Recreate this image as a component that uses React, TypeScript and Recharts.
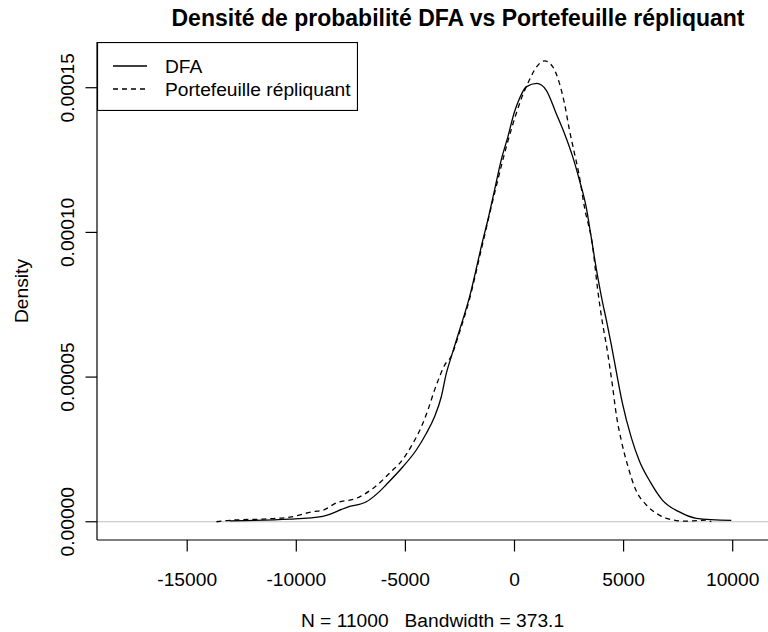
import React from 'react';
import { LineChart, Line, XAxis, YAxis, ReferenceLine, Legend, Label } from 'recharts';

// ---------- data ----------
const dfaX = [-13050, -10300, -8790, -7650, -6790, -6180, -5880, -5115, -4500, -4045, -3665, -3355, -3125, -2900, -2520, -2060, -1765, -1525, -1225, -915, -610, -305, 0, 230, 535, 1020, 1450, 1910, 2290, 2670, 2975, 3285, 3480, 3760, 4045, 4213, 4442, 4670, 4945, 5357, 5724, 6227, 6777, 7555, 8334, 9936];
const dfaY = [0.03e-5, 0.09e-5, 0.19e-5, 0.51e-5, 0.69e-5, 1.05e-5, 1.28e-5, 1.90e-5, 2.48e-5, 3.05e-5, 3.63e-5, 4.32e-5, 5.13e-5, 5.70e-5, 6.62e-5, 7.77e-5, 8.70e-5, 9.50e-5, 10.42e-5, 11.46e-5, 12.50e-5, 13.30e-5, 14.17e-5, 14.63e-5, 15.03e-5, 15.15e-5, 14.92e-5, 14.11e-5, 13.42e-5, 12.61e-5, 11.81e-5, 10.88e-5, 10.00e-5, 8.70e-5, 7.55e-5, 6.96e-5, 6.10e-5, 5.17e-5, 4.10e-5, 2.90e-5, 2.10e-5, 1.37e-5, 0.75e-5, 0.34e-5, 0.12e-5, 0.05e-5];

const repX = [-13660, -13050, -11370, -10300, -9235, -8780, -8165, -7250, -6490, -5575, -5265, -4655, -4270, -3970, -3665, -3435, -3205, -2900, -2520, -2060, -1525, -915, -305, 80, 320, 610, 915, 1375, 1755, 2060, 2290, 2520, 2745, 2945, 3205, 3585, 3814, 3984, 4258, 4487, 4670, 4899, 5197, 5541, 6044, 6640, 6960, 7876, 8792, 9020];
const repY = [0.0, 0.05e-5, 0.10e-5, 0.16e-5, 0.35e-5, 0.40e-5, 0.65e-5, 0.81e-5, 1.15e-5, 1.79e-5, 2.02e-5, 2.71e-5, 3.28e-5, 3.86e-5, 4.55e-5, 5.01e-5, 5.41e-5, 5.72e-5, 6.55e-5, 7.70e-5, 9.40e-5, 11.35e-5, 13.15e-5, 14.11e-5, 14.64e-5, 15.15e-5, 15.61e-5, 15.93e-5, 15.72e-5, 15.15e-5, 14.46e-5, 13.53e-5, 12.74e-5, 12.05e-5, 10.88e-5, 9.50e-5, 8.01e-5, 7.10e-5, 5.89e-5, 4.72e-5, 3.68e-5, 2.79e-5, 1.92e-5, 1.13e-5, 0.58e-5, 0.23e-5, 0.12e-5, 0.02e-5, 0.06e-5, 0.0];

const xTicks = [-15000, -10000, -5000, 0, 5000, 10000];
const yTicks = [0, 0.00005, 0.0001, 0.00015];
const xDomain = [-19134, 11618];
const yDomain = [-0.0000063, 0.0001658];

const titleText = 'Densité de probabilité DFA vs Portefeuille répliquant';
const xLabelText = 'N = 11000   Bandwidth = 373.1';
const yLabelText = 'Density';
const seriesNames = ['DFA', 'Portefeuille répliquant'];

const dfaData = dfaX.map((x, i) => ({ x, y: dfaY[i] }));
const repData = repX.map((x, i) => ({ x, y: repY[i] }));

// ---------- layout / style ----------
const W = 768;
const H = 632;
const PLOT_LEFT = 97;
const PLOT_TOP = 42;
const PLOT_BOTTOM = 540;
const TITLE_CX = 458;
const FONT = '"Liberation Sans", Arial, sans-serif';
const FS = 19.2;
const DASH = '5 4';

const XTick = (props: any) => {
  const { x, payload } = props;
  return (
    <text x={x} y={585.5} textAnchor="middle" fontSize={FS} fontFamily={FONT} fill="#000">
      {String(payload.value)}
    </text>
  );
};

const YTick = (props: any) => {
  const { y, payload } = props;
  return (
    <text
      transform={`translate(74, ${y}) rotate(-90)`}
      textAnchor="middle"
      fontSize={FS}
      fontFamily={FONT}
      fill="#000"
    >
      {Number(payload.value).toFixed(5)}
    </text>
  );
};

const renderLegend = () => (
  <svg width={261} height={69} style={{ display: 'block' }}>
    <rect x={0.5} y={0.5} width={260} height={68} fill="#fff" stroke="#000" strokeWidth={1.2} />
    <line x1={16} x2={50} y1={24} y2={24} stroke="#000" strokeWidth={1.3} />
    <line x1={16} x2={50} y1={47} y2={47} stroke="#000" strokeWidth={1.3} strokeDasharray={DASH} />
    <text x={68} y={31} fontSize={FS} fontFamily={FONT} fill="#000">{seriesNames[0]}</text>
    <text x={68} y={54} fontSize={FS} fontFamily={FONT} fill="#000">{seriesNames[1]}</text>
  </svg>
);

export default function App() {
  return (
    <div style={{ position: 'absolute', left: 0, top: 0, width: W, height: H, background: '#fff' }}>
      <LineChart width={W} height={H} margin={{ top: PLOT_TOP, right: 0, bottom: 0, left: 0 }}>
        <XAxis
          xAxisId="top"
          orientation="top"
          type="number"
          dataKey="x"
          domain={xDomain}
          allowDataOverflow
          height={0}
          tick={false}
          tickLine={false}
          axisLine={{ stroke: '#000', strokeWidth: 1.2 }}
        />
        <XAxis
          type="number"
          dataKey="x"
          domain={xDomain}
          allowDataOverflow
          ticks={xTicks}
          interval={0}
          height={H - PLOT_BOTTOM}
          tickSize={11.5}
          tick={<XTick />}
          tickLine={{ stroke: '#000', strokeWidth: 1.2 }}
          axisLine={{ stroke: '#000', strokeWidth: 1.2 }}
        >
          <Label
            content={() => (
              <text
                x={(PLOT_LEFT + W) / 2}
                y={627}
                textAnchor="middle"
                fontSize={FS}
                fontFamily={FONT}
                fill="#000"
                style={{ whiteSpace: 'pre' }}
              >
                {xLabelText}
              </text>
            )}
          />
        </XAxis>
        <YAxis
          type="number"
          domain={yDomain}
          allowDataOverflow
          ticks={yTicks}
          interval={0}
          width={PLOT_LEFT}
          tickSize={11.5}
          tick={<YTick />}
          tickLine={{ stroke: '#000', strokeWidth: 1.2 }}
          axisLine={{ stroke: '#000', strokeWidth: 1.2 }}
        >
          <Label
            content={() => (
              <g>
                <text
                  transform={`translate(28, ${(PLOT_TOP + PLOT_BOTTOM) / 2}) rotate(-90)`}
                  textAnchor="middle"
                  fontSize={FS}
                  fontFamily={FONT}
                  fill="#000"
                >
                  {yLabelText}
                </text>
                <text
                  x={TITLE_CX}
                  y={26}
                  textAnchor="middle"
                  fontSize={23}
                  fontWeight="bold"
                  fontFamily={FONT}
                  fill="#000"
                >
                  {titleText}
                </text>
              </g>
            )}
          />
        </YAxis>
        <ReferenceLine y={0} stroke="#bebebe" strokeWidth={1} />
        <Line
          data={dfaData}
          dataKey="y"
          name={seriesNames[0]}
          type="monotone"
          stroke="#000"
          strokeWidth={1.3}
          dot={false}
          activeDot={false}
          isAnimationActive={false}
        />
        <Line
          data={repData}
          dataKey="y"
          name={seriesNames[1]}
          type="monotone"
          stroke="#000"
          strokeWidth={1.3}
          strokeDasharray={DASH}
          dot={false}
          activeDot={false}
          isAnimationActive={false}
        />
        <Legend
          layout="horizontal"
          verticalAlign="middle"
          align="center"
          wrapperStyle={{ position: 'absolute', left: PLOT_LEFT, top: PLOT_TOP, width: 261, height: 69, margin: 0, padding: 0 }}
          content={renderLegend}
        />
      </LineChart>
    </div>
  );
}
